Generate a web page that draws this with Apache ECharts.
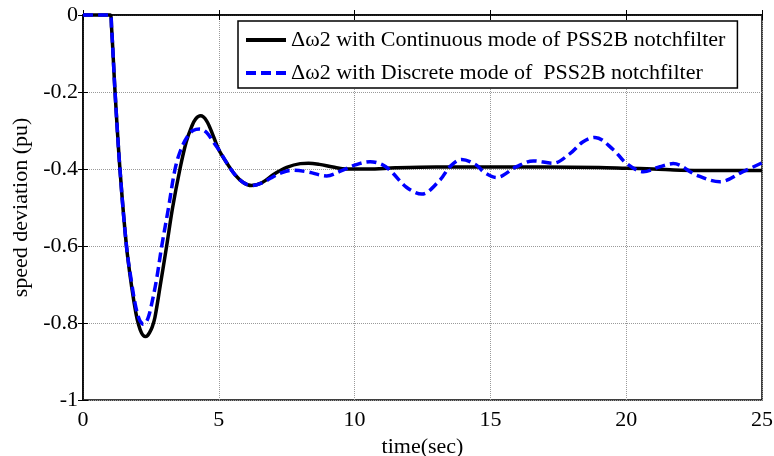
<!DOCTYPE html>
<html>
<head>
<meta charset="utf-8">
<script src="https://cdn.jsdelivr.net/npm/echarts@6/dist/echarts.min.js"></script>
<style>
  html, body { margin: 0; padding: 0; background: #fff; }
  #chart { width: 774px; height: 456px; }
</style>
</head>
<body>
<div id="chart"></div>
<script>
// Rotor speed deviation response, generator 2
const seriesNames = [
  '\u0394\u03c92 with Continuous mode of PSS2B notchfilter',
  '\u0394\u03c92 with Discrete mode of  PSS2B notchfilter'
];

// [time (s), speed deviation (pu)] - continuous notch filter
const continuousData = [
  [0, 0], [1.0, 0], [1.05, -0.03], [1.18, -0.2], [1.36, -0.4], [1.6, -0.6], [1.8, -0.71],
  [1.95, -0.775], [2.05, -0.805], [2.15, -0.825], [2.23, -0.833], [2.3, -0.835], [2.37, -0.833],
  [2.45, -0.825], [2.55, -0.81], [2.65, -0.785], [2.85, -0.7],
  [3.08, -0.6], [3.3, -0.5], [3.57, -0.4], [3.8, -0.33], [4.0, -0.29], [4.15, -0.27],
  [4.33, -0.262], [4.55, -0.275], [4.8, -0.315], [5.0, -0.35], [5.3, -0.385], [5.6, -0.415],
  [5.9, -0.435], [6.2, -0.443], [6.6, -0.435], [7.0, -0.415], [7.5, -0.396], [8.0, -0.386],
  [8.3, -0.385], [8.7, -0.388], [9.2, -0.395], [9.7, -0.4], [10.5, -0.4], [11.5, -0.397],
  [13, -0.395], [15, -0.395], [17, -0.395], [19, -0.396], [20, -0.398], [21, -0.4],
  [22, -0.403], [23, -0.404], [25, -0.404]
];

// [time (s), speed deviation (pu)] - discrete notch filter
const discreteData = [
  [0, 0], [1.0, 0], [1.05, -0.03], [1.18, -0.2], [1.36, -0.4], [1.6, -0.6], [1.8, -0.7],
  [1.92, -0.75], [2.02, -0.78], [2.1, -0.795], [2.17, -0.801], [2.22, -0.803], [2.28, -0.801],
  [2.35, -0.795], [2.42, -0.782], [2.5, -0.76], [2.7, -0.69],
  [2.9, -0.6], [3.15, -0.5], [3.39, -0.4], [3.6, -0.35], [3.85, -0.315], [4.05, -0.3],
  [4.3, -0.296], [4.55, -0.305], [4.8, -0.33], [5.0, -0.35], [5.3, -0.385], [5.6, -0.415],
  [5.9, -0.435], [6.2, -0.443], [6.6, -0.436], [6.9, -0.424], [7.3, -0.41], [7.74, -0.403],
  [8.3, -0.408], [8.97, -0.418], [9.5, -0.405], [10.0, -0.39], [10.57, -0.381], [11.0, -0.388],
  [11.3, -0.403], [11.92, -0.448], [12.47, -0.465], [13.14, -0.429], [13.51, -0.394],
  [13.94, -0.375], [14.49, -0.39], [14.74, -0.407], [15.23, -0.422], [15.96, -0.394],
  [16.58, -0.379], [17.3, -0.385], [17.93, -0.36], [18.4, -0.33], [18.85, -0.318],
  [19.53, -0.35], [20.0, -0.385], [20.63, -0.407], [21.24, -0.394], [21.73, -0.386],
  [22.59, -0.416], [23.45, -0.433], [24.3, -0.407], [25, -0.384]
];

const xTicks = [0, 5, 10, 15, 20, 25];
const yTicks = [-1, -0.8, -0.6, -0.4, -0.2, 0];
const yTickLabels = ['-1', '-0.8', '-0.6', '-0.4', '-0.2', '0'];
const xTitle = 'time(sec)';
const yTitle = 'speed deviation (pu)';

const FONT = 'Liberation Serif';

const chart = echarts.init(document.getElementById('chart'), null, { renderer: 'canvas' });

const baseAxisLine = { show: true, lineStyle: { color: '#000', width: 1.5 } };
const tickIn = { show: true, inside: true, length: 5, lineStyle: { color: '#000', width: 1 } };
const gridLine = { show: true, lineStyle: { color: '#9a9a9a', type: [1, 1], width: 1 } };

chart.setOption({
  animation: false,
  backgroundColor: '#fff',
  grid: {
    left: 83, top: 15, right: 12, bottom: 56,
    containLabel: false, outerBoundsMode: 'none',
    show: true, borderColor: '#000', borderWidth: 1.5, backgroundColor: 'transparent'
  },
  legend: {
    orient: 'vertical',
    left: 238, top: 21,
    backgroundColor: '#fff',
    borderColor: '#000', borderWidth: 1.5, borderRadius: 0,
    padding: [8, 12, 4, 6],
    itemWidth: 40, itemHeight: 14, itemGap: 11,
    itemStyle: { opacity: 0 },
    lineStyle: { width: 4 },
    textStyle: { fontFamily: FONT, fontSize: 22, color: '#000', lineHeight: 22 },
    data: seriesNames
  },
  xAxis: [{
    type: 'value',
    min: xTicks[0], max: xTicks[xTicks.length - 1], interval: xTicks[1] - xTicks[0],
    name: xTitle, nameLocation: 'middle', nameGap: 22,
    nameTextStyle: { fontFamily: FONT, fontSize: 22, color: '#000' },
    axisLine: baseAxisLine, axisTick: tickIn, splitLine: gridLine,
    axisLabel: { fontFamily: FONT, fontSize: 22, color: '#000', margin: 9 }
  }, {
    type: 'value', position: 'top',
    min: xTicks[0], max: xTicks[xTicks.length - 1], interval: xTicks[1] - xTicks[0],
    axisLine: { show: false }, axisTick: tickIn, axisLabel: { show: false }, splitLine: { show: false }
  }],
  yAxis: [{
    type: 'value',
    min: yTicks[0], max: yTicks[yTicks.length - 1], interval: 0.2,
    name: yTitle, nameLocation: 'middle', nameGap: 46,
    nameTextStyle: { fontFamily: FONT, fontSize: 22, color: '#000' },
    axisLine: baseAxisLine, axisTick: tickIn, splitLine: gridLine,
    axisLabel: {
      fontFamily: FONT, fontSize: 22, color: '#000', margin: 5,
      formatter: v => {
        const i = yTicks.findIndex(t => Math.abs(t - v) < 1e-6);
        return i >= 0 ? yTickLabels[i] : '';
      }
    }
  }, {
    type: 'value', position: 'right',
    min: yTicks[0], max: yTicks[yTicks.length - 1], interval: 0.2,
    axisLine: { show: false }, axisTick: tickIn, axisLabel: { show: false }, splitLine: { show: false }
  }],
  series: [{
    name: seriesNames[0], type: 'line', data: continuousData,
    xAxisIndex: 0, yAxisIndex: 0,
    showSymbol: false, symbol: 'none', smooth: 0.35, clip: false,
    lineStyle: { color: '#000', width: 3.5 },
    itemStyle: { color: '#000' }
  }, {
    name: seriesNames[1], type: 'line', data: discreteData,
    xAxisIndex: 0, yAxisIndex: 0,
    showSymbol: false, symbol: 'none', smooth: 0.35, clip: false,
    lineStyle: { color: '#0000ff', width: 3.5, type: [10, 5] },
    itemStyle: { color: '#0000ff' }
  }]
});
</script>
</body>
</html>
